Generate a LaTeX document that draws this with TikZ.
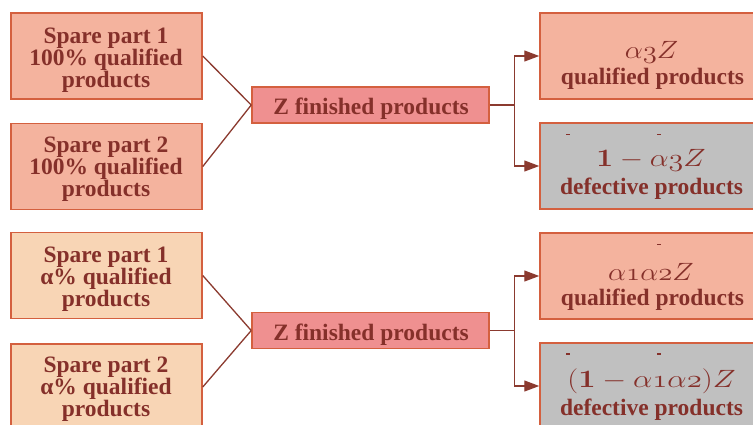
\RequirePackage{fix-cm}
\documentclass[tikz,border=0pt]{standalone}
\usepackage[no-math]{fontspec}
\setmainfont{Liberation Serif}
\usepackage{graphicx}
\usetikzlibrary{arrows.meta}
\definecolor{bord}{HTML}{D4603F}
\definecolor{salmon}{HTML}{F4B39E}
\definecolor{peach}{HTML}{F8D5B5}
\definecolor{zpink}{HTML}{EF9090}
\definecolor{greyb}{HTML}{C0C0C0}
\definecolor{txt}{HTML}{85302A}
\definecolor{wire}{HTML}{8B3A2F}
\newcommand{\mathline}[2][1.15]{\scalebox{#1}[1]{\fontsize{25}{25}\selectfont$#2$}}
\tikzset{
  base/.style={draw=bord, line width=1.5pt, inner sep=0pt},
  lbox/.style={base, minimum width=191pt, minimum height=86pt},
  zbox/.style={base, fill=zpink, minimum width=237pt, minimum height=36pt},
  rbox/.style={base, minimum width=226pt, minimum height=86pt},
  tl/.style={anchor=base, text=txt, inner sep=0pt,
    font=\bfseries\fontsize{23.5}{23.5}\selectfont},
  wirestyle/.style={draw=wire, line width=1.3pt},
  arr/.style={wirestyle, -{Triangle[length=15pt,width=11pt]}},
  hatmark/.style={fill=txt}
}
\begin{document}
\begin{tikzpicture}[x=1pt,y=-1pt]
\useasboundingbox (0,0) rectangle (753,424);
\clip (0,0) rectangle (753,424);
% left boxes
\node[lbox, fill=salmon] (s1) at (106.5,56) {};
\node[lbox, fill=salmon] (s2) at (106.5,166.5) {};
\node[lbox, fill=peach] (s3) at (106.5,275.5) {};
\node[lbox, fill=peach] (s4) at (106.5,387) {};
\node[tl] (s1a) at (106,43.3) {Spare part 1};
\node[tl] (s1b) at (106,65.5) {100\% qualified};
\node[tl] (s1c) at (106,87.5) {products};
\node[tl] (s2a) at (106,152) {Spare part 2};
\node[tl] (s2b) at (106,174.5) {100\% qualified};
\node[tl] (s2c) at (106,196.5) {products};
\node[tl] (s3a) at (106,262) {Spare part 1};
\node[tl] (s3b) at (106,284.5) {α\% qualified};
\node[tl] (s3c) at (106,306.5) {products};
\node[tl] (s4a) at (106,372) {Spare part 2};
\node[tl] (s4b) at (106,394.5) {α\% qualified};
\node[tl] (s4c) at (106,416.5) {products};
% Z boxes
\node[zbox] (z1) at (370.5,105) {};
\node[zbox] (z2) at (370.5,330.5) {};
\node[tl] (z1t) at (371,114) {Z finished products};
\node[tl] (z2t) at (371,340.5) {Z finished products};
% right boxes
\node[rbox, fill=salmon] (q1) at (653,56) {};
\node[rbox, fill=greyb] (d1) at (653,166) {};
\node[rbox, fill=salmon] (q2) at (653,276) {};
\node[rbox, fill=greyb] (d2) at (653,386) {};
\node[tl] (q1m) at (651.5,58.3) {\mathline{\alpha\mathnormal{3}Z}};
\node[tl] (q1t) at (652.5,84) {qualified products};
\node[tl] (d1m) at (651,166.5) {\mathline[1.2]{\mathbf{1}-\alpha\mathnormal{3}Z}};
\node[tl] (d1t) at (651.5,194) {defective products};
\node[tl] (q2m) at (651,280) {\mathline{\alpha\mathnormal{1}\alpha\mathnormal{2}Z}};
\node[tl] (q2t) at (652.5,305) {qualified products};
\node[tl] (d2m) at (651.5,387) {\mathline[1.23]{\mathbf{(1}-\alpha\mathnormal{1}\alpha\mathnormal{2}\mathbf{)}Z}};
\node[tl] (d2t) at (651.5,415) {defective products};
% connectors
\draw[wirestyle] (s1.east) -- (z1.west);
\draw[wirestyle] (s2.east) -- (z1.west);
\draw[wirestyle] (s3.east) -- (z2.west);
\draw[wirestyle] (s4.east) -- (z2.west);
\draw[wirestyle] (z1.east) -- ++(25,0) coordinate (j1);
\draw[arr] (j1) |- (q1.west);
\draw[arr] (j1) |- (d1.west);
\draw[wirestyle] (z2.east) -- ++(25,0) coordinate (j2);
\draw[arr] (j2) |- (q2.west);
\draw[arr] (j2) |- (d2.west);
% small marks
\fill[hatmark] (566,133.5) rectangle ++(4,1.5);
\fill[hatmark] (657,133.5) rectangle ++(4,1.5);
\fill[hatmark] (657,243.5) rectangle ++(4,1.5);
\fill[hatmark] (566,353) rectangle ++(4,1.5);
\fill[hatmark] (657,353) rectangle ++(4,1.5);
\end{tikzpicture}
\end{document}
